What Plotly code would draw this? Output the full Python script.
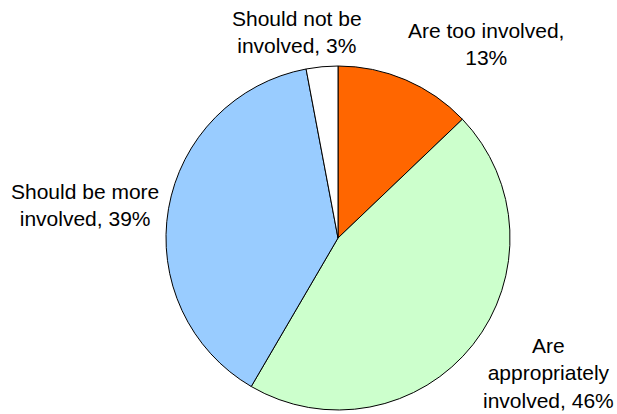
import plotly.graph_objects as go

labels = ["Are too involved", "Are appropriately involved", "Should be more involved", "Should not be involved"]
values = [13, 46, 39, 3]
colors = ["#FF6600", "#CCFFCC", "#99CCFF", "#FFFFFF"]
label_texts = ["Are too involved,<br>13%", "Are<br>appropriately<br>involved, 46%",
               "Should be more<br>involved, 39%", "Should not be<br>involved, 3%"]
label_px = [(486, 44), (548, 373), (85, 205), (297, 32)]

W, H = 617, 414
fig = go.Figure(go.Pie(
    labels=labels, values=values, sort=False, direction="clockwise", rotation=0,
    marker=dict(colors=colors, line=dict(color="black", width=1)),
    textinfo="none", hoverinfo="label+percent", showlegend=False,
    domain=dict(x=[166 / W, 510 / W], y=[1 - 410 / H, 1 - 66 / H]),
))
for t, (px, py) in zip(label_texts, label_px):
    fig.add_annotation(text=t, x=px / W, y=1 - py / H, xref="paper", yref="paper",
                       xanchor="center", yanchor="middle", showarrow=False,
                       font=dict(size=21, color="black", family="Liberation Sans, Arial"))
fig.update_layout(width=W, height=H, margin=dict(l=0, r=0, t=0, b=0),
                  paper_bgcolor="white", plot_bgcolor="white")
fig.write_html("out.html", config={"displayModeBar": False},
               post_script="document.body.style.margin='0px';")
